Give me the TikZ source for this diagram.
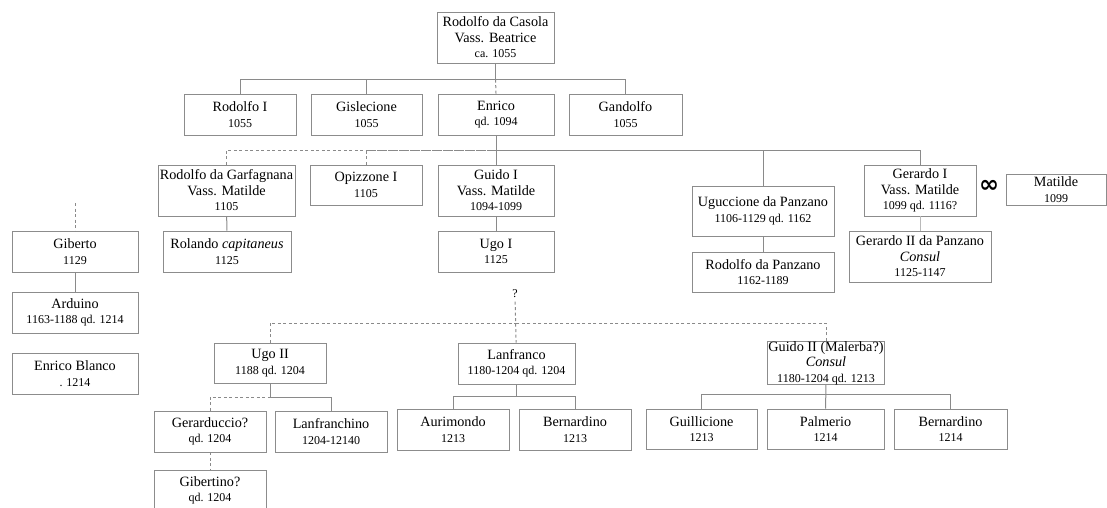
\documentclass[tikz,border=0pt]{standalone}
\usepackage{fontspec}
\setmainfont{Liberation Serif}
\newfontfamily\symfont{DejaVu Sans}
\usepackage{tikz}
\usetikzlibrary{positioning}
\definecolor{boxgray}{HTML}{8C8C8C}
\definecolor{linegray}{HTML}{8A8A8A}
\newcommand\dt[1]{{\fontsize{12}{13}\selectfont #1}}

\begin{document}
\begin{tikzpicture}[x=1pt, y=-1pt,
	person/.style={draw=boxgray, line width=0.9pt, align=center, inner sep=1pt, font=\fontsize{14.2}{15.5}\selectfont},
	link/.style={draw=linegray, line width=1pt},
	unsure/.style={link, dash pattern=on 3pt off 2.5pt}
	]
	\useasboundingbox (0,0) rectangle (1107,507);
	% first generations
	\node[person, minimum width=117, minimum height=51] (casola) at (495.5,37.5) {Rodolfo da Casola\\Vass. Beatrice\\\dt{ca. 1055}};
	\node[person, minimum width=112, minimum height=41] (rodolfoI) at (240,114.5) {Rodolfo I\\\dt{1055}};
	\node[person, minimum width=111, minimum height=41] (gislecione) at (366.5,114.5) {Gislecione\\\dt{1055}};
	\node[person, minimum width=116, minimum height=41] (enrico) at (496,114.5) {Enrico\\\dt{qd. 1094}};
	\node[person, minimum width=113, minimum height=41] (gandolfo) at (625.5,114.5) {Gandolfo\\\dt{1055}};
	% sons of Enrico
	\node[person, minimum width=137, minimum height=51] (garfagnana) at (226.5,190.5) {Rodolfo da Garfagnana\\Vass. Matilde\\\dt{1105}};
	\node[person, minimum width=112, minimum height=40] (opizzone) at (366,185) {Opizzone I\\\dt{1105}};
	\node[person, minimum width=116, minimum height=51] (guidoI) at (496,190.5) {Guido I\\Vass. Matilde\\\dt{1094-1099}};
	\node[person, minimum width=142, minimum height=50] (uguccione) at (763,211) {Uguccione da Panzano\\\dt{1106-1129 qd. 1162}};
	\node[person, minimum width=112, minimum height=51] (gerardoI) at (920,190.5) {Gerardo I\\Vass. Matilde\\\dt{1099 qd. 1116?}};
	\node[font=\symfont\bfseries\fontsize{24}{24}\selectfont, inner sep=0pt] (marr) at (989,186) {∞};
	\node[person, minimum width=100, minimum height=31] (matilde) at (1056,189.5) {Matilde\\\dt{1099}};
	% next generation
	\node[person, minimum width=126, minimum height=41] (giberto) at (75,251.5) {Giberto\\\dt{1129}};
	\node[person, minimum width=128, minimum height=41] (rolando) at (227,251.5) {Rolando \textit{capitaneus}\\\dt{1125}};
	\node[person, minimum width=116, minimum height=41] (ugoI) at (496,251.5) {Ugo I\\\dt{1125}};
	\node[person, minimum width=142, minimum height=51] (gerardoII) at (920,256.5) {Gerardo II da Panzano\\\textit{Consul}\\\dt{1125-1147}};
	\node[person, minimum width=142, minimum height=40] (rodpanzano) at (763,272) {Rodolfo da Panzano\\\dt{1162-1189}};
	\node[person, minimum width=126, minimum height=41] (arduino) at (75,312.5) {Arduino\\\dt{1163-1188 qd. 1214}};
	\node[person, minimum width=126, minimum height=41] (blanco) at (75,373.5) {Enrico Blanco\\\dt{. 1214}};
	\node[font=\dt{}] (q) at (515,294) {\dt{?}};
	\node[person, minimum width=112, minimum height=40] (ugoII) at (270,363) {Ugo II\\\dt{1188 qd. 1204}};
	\node[person, minimum width=117, minimum height=41] (lanfranco) at (516.5,363.5) {Lanfranco\\\dt{1180-1204 qd. 1204}};
	\node[person, minimum width=117, minimum height=40, inner sep=0pt] (guidoII) at (826,363) {Guido II (Malerba?)\\\textit{Consul}\\\dt{1180-1204 qd. 1213}};
	% last generation
	\node[person, minimum width=112, minimum height=41] (gerarduccio) at (210,431.5) {Gerarduccio?\\\dt{qd. 1204}};
	\node[person, minimum width=112, minimum height=41] (lanfranchino) at (331,431.5) {Lanfranchino\\\dt{1204-12140}};
	\node[person, minimum width=112, minimum height=41] (aurimondo) at (453,429.5) {Aurimondo\\\dt{1213}};
	\node[person, minimum width=112, minimum height=41] (bernardinoA) at (575,429.5) {Bernardino\\\dt{1213}};
	\node[person, minimum width=111, minimum height=40] (guillicione) at (701.5,429) {Guillicione\\\dt{1213}};
	\node[person, minimum width=117, minimum height=40] (palmerio) at (825.5,429) {Palmerio\\\dt{1214}};
	\node[person, minimum width=113, minimum height=40] (bernardinoB) at (950.5,429) {Bernardino\\\dt{1214}};
	\node[person, minimum width=112, minimum height=41] (gibertino) at (210,490.5) {Gibertino?\\\dt{qd. 1204}};
	% junctions
	\coordinate (j1) at (495.5,79);
	\coordinate (j2) at (496,150);
	\coordinate (j3) at (516,323);
	\coordinate (j4) at (270,397);
	\coordinate (j5) at (516.5,396);
	\coordinate (j6) at (826,394);
	\coordinate (gtop) at (75,203);
	% links
	\draw[link] (casola) -- (j1);
	\draw[link] (rodolfoI.north) |- (j1);
	\draw[link] (gislecione.north) |- (j1);
	\draw[link] (gandolfo.north) |- (j1);
	\draw[unsure] (enrico.north) -- (j1);
	\draw[link] (enrico) -- (guidoI);
	\draw[link] (uguccione.north) |- (j2);
	\draw[link] (gerardoI.north) |- (j2);
	\draw[unsure] (garfagnana.north) |- (j2);
	\draw[unsure] (opizzone.north) |- (j2);
	\draw[link] (garfagnana) -- (rolando);
	\draw[link] (guidoI) -- (ugoI);
	\draw[link] (uguccione) -- (rodpanzano);
	\draw[link, draw=linegray!60] (gerardoI) -- (gerardoII);
	\draw[unsure] (gtop) -- (giberto);
	\draw[link] (giberto) -- (arduino);
	\draw[unsure] (q) -- (lanfranco);
	\draw[unsure] (ugoII.north) |- (j3);
	\draw[unsure] (guidoII.north) |- (j3);
	\draw[link] (ugoII) -- (j4);
	\draw[link] (lanfranchino.north) |- (j4);
	\draw[unsure] (gerarduccio.north) |- (j4);
	\draw[unsure] (gerarduccio) -- (gibertino);
	\draw[link] (lanfranco) -- (j5);
	\draw[link] (aurimondo.north) |- (j5);
	\draw[link] (bernardinoA.north) |- (j5);
	\draw[link] (guidoII) -- (palmerio);
	\draw[link] (guillicione.north) |- (j6);
	\draw[link] (bernardinoB.north) |- (j6);
\end{tikzpicture}
\end{document}
